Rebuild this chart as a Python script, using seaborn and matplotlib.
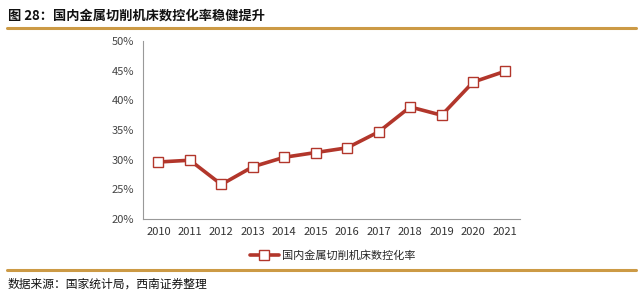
import matplotlib
matplotlib.use("Agg")
import matplotlib.pyplot as plt
import matplotlib.ticker as mticker
from matplotlib.lines import Line2D
import seaborn as sns
import pandas as pd

years = ["2010", "2011", "2012", "2013", "2014", "2015", "2016", "2017", "2018", "2019", "2020", "2021"]
rate = [29.6, 29.9, 25.8, 28.8, 30.4, 31.2, 32.0, 34.7, 38.9, 37.5, 43.1, 44.9]
series_name = "国内金属切削机床数控化率"
title = "图 28：国内金属切削机床数控化率稳健提升"
source = "数据来源：国家统计局，西南证券整理"
y_ticks = [20, 25, 30, 35, 40, 45, 50]

sns.set_theme(style="white")
plt.rcParams["font.family"] = ["Noto Sans CJK SC", "DejaVu Sans"]

df = pd.DataFrame({"idx": range(len(years)), "year": years, "rate": rate})

fig = plt.figure(figsize=(6.4, 3.01), dpi=100)
ax = fig.add_axes([0.223, 0.273, 0.590, 0.590])

red = "#B2362B"
sns.lineplot(data=df, x="idx", y="rate", ax=ax, color=red, linewidth=2.6,
             marker="s", markersize=6.5, markerfacecolor="white",
             markeredgecolor=red, markeredgewidth=1.0, label=series_name)

ax.set_xlim(-0.5, len(years) - 0.5)
ax.set_ylim(20, 50)
ax.set_yticks(y_ticks)
ax.yaxis.set_major_formatter(mticker.FuncFormatter(lambda v, p: f"{v:.0f}%"))
ax.set_xticks(range(len(years)))
ax.set_xticklabels(years)
ax.set_xticks([i - 0.5 for i in range(len(years) + 1)], minor=True)
ax.tick_params(axis="x", which="major", length=0, labelsize=8, colors="#333333", pad=6)
ax.tick_params(axis="x", which="minor", length=4, color="#999999", width=0.8, direction="out")
ax.tick_params(axis="y", which="major", length=4, color="#999999", width=0.8, direction="out",
               labelsize=8, colors="#444444", pad=2)
ax.tick_params(axis="y", colors="#999999", labelcolor="#444444")
ax.set_xlabel("")
ax.set_ylabel("")
for s in ["top", "right"]:
    ax.spines[s].set_visible(False)
for s in ["left", "bottom"]:
    ax.spines[s].set_color("#999999")
    ax.spines[s].set_linewidth(0.8)

ax.legend_.remove()
handle = Line2D([0], [0], color=red, linewidth=2.6, marker="s", markersize=6.5,
                markerfacecolor="white", markeredgecolor=red, markeredgewidth=1.0)
fig.legend([handle], [series_name], loc="center", bbox_to_anchor=(0.52, 0.152),
           frameon=False, fontsize=8, handlelength=2.6, handletextpad=0.3,
           prop={"family": ["Noto Sans CJK SC"], "size": 8})

gold = "#CC9A45"
fig.text(0.012, 0.948, title, fontsize=9.5, fontweight="bold", color="#111111", va="center", ha="left")
fig.add_artist(Line2D([0.011, 0.993], [0.908, 0.908], color=gold, linewidth=2.2, transform=fig.transFigure))
fig.add_artist(Line2D([0.011, 0.993], [0.103, 0.103], color=gold, linewidth=2.2, transform=fig.transFigure))
fig.text(0.012, 0.055, source, fontsize=8.5, style="italic", color="#111111", va="center", ha="left")

fig.savefig("out.png", dpi=100, facecolor="white")
